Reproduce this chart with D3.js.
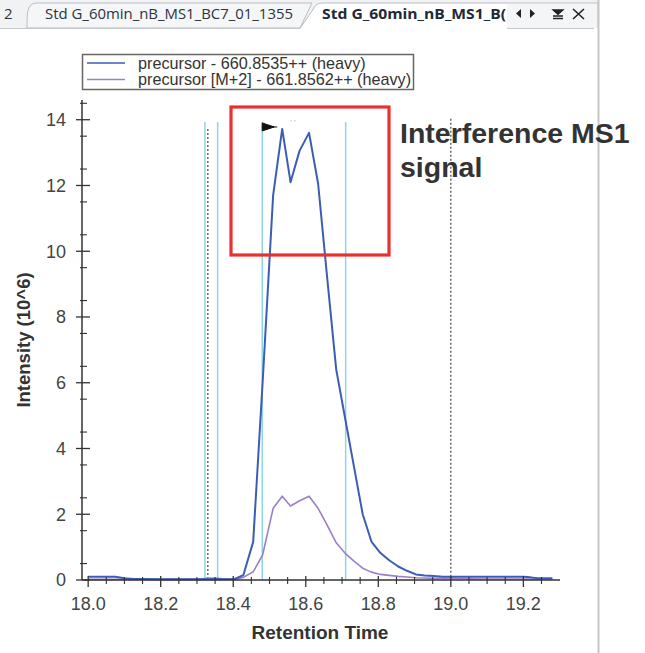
<!DOCTYPE html>
<html>
<head>
<meta charset="utf-8">
<script src="https://cdn.jsdelivr.net/npm/d3@7"></script>
<style>
    body { margin: 0; background: #fff; }
    svg { display: block; }
</style>
</head>
<body>
<div id="chart"></div>
<script>
// chromatogram values
const retentionTimes = [18.000, 18.025, 18.050, 18.075, 18.100, 18.125, 18.150, 18.200, 18.250, 18.300,
    18.330, 18.350, 18.370, 18.404, 18.428, 18.455, 18.481, 18.510, 18.535, 18.558, 18.583, 18.609,
    18.634, 18.659, 18.684, 18.708, 18.732, 18.757, 18.781, 18.806, 18.830, 18.855, 18.879, 18.904,
    18.928, 18.953, 18.977, 19.000, 19.050, 19.100, 19.150, 19.200, 19.220, 19.240, 19.280];

const precursorHeavy = [0.10, 0.10, 0.10, 0.10, 0.05, 0.03, 0.03, 0.02, 0.02, 0.02,
    0.02, 0.03, 0.02, 0.03, 0.15, 1.16, 6.00, 11.70, 13.72, 12.10, 13.06, 13.60,
    12.06, 9.20, 6.40, 4.95, 3.50, 2.00, 1.17, 0.82, 0.60, 0.41, 0.28, 0.17,
    0.14, 0.12, 0.10, 0.10, 0.10, 0.10, 0.10, 0.10, 0.08, 0.05, 0.05];

const precursorM2 = [0.02, 0.02, 0.02, 0.02, 0.02, 0.02, 0.02, 0.02, 0.02, 0.02,
    0.05, 0.06, 0.04, 0.02, 0.08, 0.25, 0.76, 2.18, 2.55, 2.25, 2.41, 2.55,
    2.18, 1.67, 1.13, 0.82, 0.58, 0.36, 0.24, 0.17, 0.14, 0.11, 0.09, 0.07,
    0.06, 0.05, 0.05, 0.05, 0.04, 0.03, 0.03, 0.03, 0.03, 0.03, 0.03];

const seriesNames = ["precursor - 660.8535++ (heavy)", "precursor [M+2] - 661.8562++ (heavy)"];
const seriesColors = ["#3d5db5", "#9a80c8"];

const boundaryTimes = [18.322, 18.357, 18.480, 18.710];   // cyan lines
const dottedTimes = [18.330, 19.000];                      // black dotted lines
const lineTopIntensity = 13.93;
const peakMarker = {time: 18.480, intensity: 13.78};

const xMajorTicks = [18.0, 18.2, 18.4, 18.6, 18.8, 19.0, 19.2];
const yMajorTicks = [0, 2, 4, 6, 8, 10, 12, 14];

const tabNames = ["2", "Std G_60min_nB_MS1_BC7_01_1355", "Std G_60min_nB_MS1_B("];

const width = 645;
const height = 653;

const svg = d3.select("#chart").append("svg")
    .attr("width", width)
    .attr("height", height)
    .style("font-family", "'Liberation Sans', Arial, sans-serif");

// ---- tab strip ----
const tabs = svg.append("g");
tabs.append("rect").attr("x", 0).attr("y", 0).attr("width", 598).attr("height", 28).attr("fill", "#f1f2f4");
tabs.append("path")
    .attr("d", "M27,28 C27,12 27,4 36,3 L312,3 L300,28 Z")
    .attr("fill", "#f5f6f7")
    .attr("stroke", "#b9bdc4");
tabs.append("path")
    .attr("d", "M300,28.5 L316,5 Q318,3 322,3 L598,3 L598,28.5")
    .attr("fill", "#fff")
    .attr("stroke", "#b9bdc4");
tabs.append("line").attr("x1", 0).attr("x2", 300).attr("y1", 28.5).attr("y2", 28.5).attr("stroke", "#c4c7cc");
tabs.append("rect").attr("x", 507).attr("y", 4).attr("width", 90).attr("height", 24).attr("fill", "#f4f5f6");
tabs.append("line").attr("x1", 507).attr("x2", 594).attr("y1", 28.5).attr("y2", 28.5).attr("stroke", "#c4c7cc");

tabs.append("text").attr("x", 4).attr("y", 19).attr("font-size", 15)
    .attr("font-family", "'Open Sans', sans-serif").attr("fill", "#2c3440").text(tabNames[0]);
tabs.append("text").attr("x", 45).attr("y", 19).attr("font-size", 15)
    .attr("font-family", "'Open Sans', sans-serif").attr("fill", "#2c3440")
    .attr("textLength", 248).attr("lengthAdjust", "spacingAndGlyphs").text(tabNames[1]);
tabs.append("text").attr("x", 322).attr("y", 19).attr("font-size", 15).attr("font-weight", "bold")
    .attr("font-family", "'Open Sans', sans-serif").attr("fill", "#1e2a38")
    .attr("textLength", 184).attr("lengthAdjust", "spacingAndGlyphs").text(tabNames[2]);

// little tab buttons
tabs.append("path").attr("d", "M516,13.5 L521,9 L521,18 Z").attr("fill", "#222");
tabs.append("path").attr("d", "M530,9 L535,13.5 L530,18 Z").attr("fill", "#222");
tabs.append("path").attr("d", "M553,10 L563,10 L558,14.5 Z M553,16 L563,16 M553,18.5 L563,18.5").attr("fill", "#222").attr("stroke", "#222").attr("stroke-width", 1.3);
tabs.append("path").attr("d", "M573,9 L584,19 M584,9 L573,19").attr("stroke", "#222").attr("stroke-width", 1.6);

svg.append("line").attr("x1", 598.5).attr("x2", 598.5).attr("y1", 0).attr("y2", height)
    .attr("stroke", "#c6c6c6").attr("stroke-width", 2);

// ---- scales ----
const x = d3.scaleLinear().domain([17.983, 19.301]).range([82, 560]);
const y = d3.scaleLinear().domain([0, 14.6]).range([580, 100]);

const xMinorTicks = d3.range(0, 26).map(i => 18 + i * 0.05).filter(t => !xMajorTicks.some(m => Math.abs(m - t) < 1e-6));
const yMinorTicks = d3.range(1, 30, 2).map(i => i * 0.5);

const axisColor = "#333";
const tickColor = "#444";

// ---- vertical boundary lines ----
svg.append("g").selectAll("line")
    .data(boundaryTimes)
    .join("line")
    .attr("x1", d => x(d)).attr("x2", d => x(d))
    .attr("y1", y(lineTopIntensity)).attr("y2", y(0))
    .attr("stroke", "#8dd5e8").attr("stroke-width", 1.5);

svg.append("g").selectAll("line")
    .data(dottedTimes)
    .join("line")
    .attr("x1", d => x(d)).attr("x2", d => x(d))
    .attr("y1", (d, i) => i === 0 ? y(peakMarker.intensity - 0.06) : y(lineTopIntensity + 0.1)).attr("y2", y(0))
    .attr("stroke", "#444").attr("stroke-width", 1.2).attr("stroke-dasharray", "2,2");

// ---- series ----
const line = d3.line()
    .x((d, i) => x(retentionTimes[i]))
    .y(d => y(d));

svg.append("path")
    .datum(precursorM2)
    .attr("fill", "none")
    .attr("stroke", seriesColors[1])
    .attr("stroke-width", 1.6)
    .attr("stroke-linejoin", "round")
    .attr("d", line);

svg.append("path")
    .datum(precursorHeavy)
    .attr("fill", "none")
    .attr("stroke", seriesColors[0])
    .attr("stroke-width", 2)
    .attr("stroke-linejoin", "round")
    .attr("d", line);

// peak marker
const mx = x(peakMarker.time);
const my = y(peakMarker.intensity);
svg.append("path")
    .attr("d", "M" + mx + "," + (my - 4) + " L" + (mx + 12) + "," + my + " L" + mx + "," + (my + 4) + " Z M" + mx + "," + my + " L" + (mx + 15) + "," + my)
    .attr("fill", "#111").attr("stroke", "#111").attr("stroke-width", 1);
svg.append("text")
    .attr("x", mx + 28).attr("y", my - 2)
    .attr("font-size", 8).attr("fill", "#9ab0c8")
    .text("' '");

// ---- axes ----
const axes = svg.append("g").attr("stroke", axisColor);
axes.append("line").attr("x1", 82).attr("x2", 82).attr("y1", y.range()[1]).attr("y2", y(0)).attr("stroke-width", 1.5);
axes.append("line").attr("x1", 82).attr("x2", 560).attr("y1", y(0)).attr("y2", y(0)).attr("stroke-width", 1.5);

axes.selectAll(".ymaj").data(yMajorTicks).join("line")
    .attr("x1", 76).attr("x2", 90).attr("y1", d => y(d)).attr("y2", d => y(d)).attr("stroke-width", 1.3);
axes.selectAll(".ymin").data(yMinorTicks).join("line")
    .attr("class", "ymin")
    .attr("x1", 80).attr("x2", 87).attr("y1", d => y(d)).attr("y2", d => y(d)).attr("stroke-width", 1.1);
axes.selectAll(".xmaj").data(xMajorTicks).join("line")
    .attr("class", "xmaj")
    .attr("x1", d => x(d)).attr("x2", d => x(d)).attr("y1", y(0) - 4).attr("y2", y(0) + 7).attr("stroke-width", 1.3);
axes.selectAll(".xmin").data(xMinorTicks).join("line")
    .attr("class", "xmin")
    .attr("x1", d => x(d)).attr("x2", d => x(d)).attr("y1", y(0) - 3).attr("y2", y(0) + 4).attr("stroke-width", 1.1);

svg.append("g").selectAll("text")
    .data(yMajorTicks)
    .join("text")
    .attr("x", 66).attr("y", d => y(d)).attr("dy", "0.36em")
    .attr("text-anchor", "end").attr("font-size", 18).attr("fill", tickColor)
    .text(d => d);

svg.append("g").selectAll("text")
    .data(xMajorTicks)
    .join("text")
    .attr("x", d => x(d)).attr("y", 610)
    .attr("text-anchor", "middle").attr("font-size", 18).attr("fill", tickColor)
    .text(d => d.toFixed(1));

svg.append("text")
    .attr("x", 320).attr("y", 639)
    .attr("text-anchor", "middle").attr("font-size", 19).attr("font-weight", "bold").attr("fill", "#333")
    .text("Retention Time");

svg.append("text")
    .attr("transform", "translate(30,340) rotate(-90)")
    .attr("text-anchor", "middle").attr("font-size", 18.5).attr("font-weight", "bold").attr("fill", "#333")
    .text("Intensity (10^6)");

// ---- legend ----
const legend = svg.append("g");
legend.append("rect")
    .attr("x", 82.5).attr("y", 54.5).attr("width", 331).attr("height", 35)
    .attr("fill", "#fff").attr("stroke", "#666").attr("stroke-width", 1.5);
seriesNames.forEach((name, i) => {
    const ly = 63 + i * 16.5;
    legend.append("line")
        .attr("x1", 87).attr("x2", 125).attr("y1", ly).attr("y2", ly)
        .attr("stroke", seriesColors[i]).attr("stroke-width", 1.5);
    legend.append("text")
        .attr("x", 138).attr("y", ly).attr("dy", "0.35em")
        .attr("font-size", 16.2).attr("fill", "#333")
        .text(name);
});

// ---- annotation ----
svg.append("rect")
    .attr("x", 231).attr("y", 107).attr("width", 158).attr("height", 148)
    .attr("fill", "none").attr("stroke", "#e8302e").attr("stroke-width", 3.2);
svg.append("text")
    .attr("x", 400).attr("y", 143)
    .attr("font-size", 28.5).attr("font-weight", "bold").attr("fill", "#333")
    .text("Interference MS1");
svg.append("text")
    .attr("x", 400).attr("y", 177)
    .attr("font-size", 28.5).attr("font-weight", "bold").attr("fill", "#333")
    .text("signal");
</script>
</body>
</html>
